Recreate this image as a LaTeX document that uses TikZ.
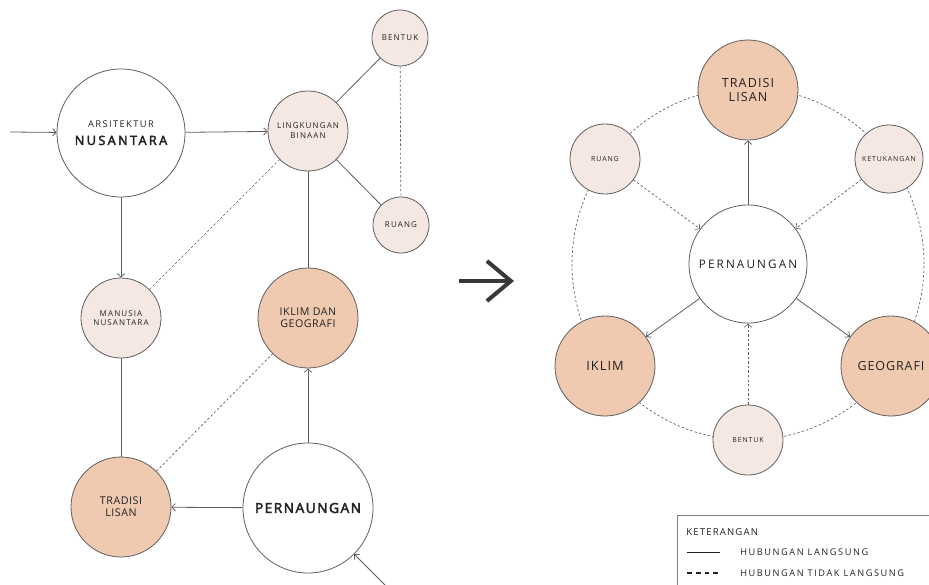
\documentclass[tikz,border=0pt]{standalone}
\usepackage{fontspec}
\setmainfont{Open Sans}
\usetikzlibrary{arrows.meta}
\definecolor{lightfill}{HTML}{F5E8E3}
\definecolor{orangefill}{HTML}{EFCAB0}
\definecolor{linegray}{HTML}{5E5E5E}
\definecolor{txt}{HTML}{222222}
\newcommand{\fs}[2]{\fontsize{#1}{#1}\selectfont\addfontfeatures{LetterSpace=#2}}
\newcommand{\semi}{\addfontfeatures{FakeBold=3}}
\begin{document}
\begin{tikzpicture}[x=0.75pt,y=-0.75pt,
  circ/.style={circle,draw=linegray,line width=0.6pt,inner sep=0pt,align=center,text=txt},
  lightc/.style={circ,fill=lightfill},
  orangec/.style={circ,fill=orangefill},
  whitec/.style={circ,fill=white},
  solidln/.style={draw=linegray,line width=0.6pt},
  dashln/.style={draw=linegray,line width=0.5pt,dash pattern=on 1.8pt off 1.6pt},
  arr/.style={-{Straight Barb[length=2.6pt,width=5.5pt]}},
  tinyL/.style={font=\fs{6}{14}},
  tinyR/.style={font=\fs{5.2}{13}},
]
\useasboundingbox (0,0) rectangle (929,585);
\clip (0,0) rectangle (929,585);

% ---------------- left diagram ----------------
\node[whitec,minimum size=96pt] (arsi) at (121,133)
  {{\fs{7}{15}ARSITEKTUR}\\[1pt]{\fs{9.6}{18}\semi NUSANTARA}};
\node[lightc,minimum size=60pt,tinyL] (ling) at (308,131) {LINGKUNGAN\\[1.5pt]BINAAN};
\node[lightc,minimum size=42pt,tinyL] (bentukL) at (400,38) {BENTUK};
\node[lightc,minimum size=42pt,tinyL] (ruangL) at (401,225) {RUANG};
\node[lightc,minimum size=60pt,tinyL] (manu) at (121,318) {MANUSIA\\[1pt]NUSANTARA};
\node[orangec,minimum size=75pt,font=\fs{8}{5}] (iklimL) at (308,318) {IKLIM DAN\\[1pt]GEOGRAFI};
\node[orangec,minimum size=75pt,font=\fs{8}{5}] (tradL) at (121,507) {TRADISI\\[1pt]LISAN};
\node[whitec,minimum size=97.5pt,font=\fs{10.4}{10}\semi] (pernL) at (308,508) {PERNAUNGAN};

\coordinate (inL) at (10,132);
\coordinate (inB) at (395,595);

\draw[solidln,arr] (inL) -- (arsi);
\draw[solidln,arr] (arsi) -- (ling);
\draw[solidln,arr] (arsi) -- (manu);
\draw[solidln] (ling) -- (bentukL);
\draw[solidln] (ling) -- (ruangL);
\draw[dashln] (bentukL) -- (ruangL);
\draw[dashln] (manu) -- (ling);
\draw[solidln] (ling) -- (iklimL);
\draw[solidln] (manu) -- (tradL);
\draw[dashln] (tradL) -- (iklimL);
\draw[solidln,arr] (pernL) -- (iklimL);
\draw[solidln,arr] (pernL) -- (tradL);
\draw[solidln,arr] (inB) -- (pernL);

% ---------------- central arrow ----------------
\coordinate (bigA) at (459,281);
\coordinate (bigB) at (514,281);
\draw[draw=txt!90,line width=3pt,-{Straight Barb[length=18pt,width=30pt,line width=3pt]}] (bigA) -- (bigB);

% ---------------- right diagram ----------------
\coordinate (rc) at (748,264);
\draw[dashln] (rc) circle[radius=132pt];

\node[whitec,minimum size=88.5pt,font=\fs{8.8}{18}] (pernR) at (748,264) {PERNAUNGAN};
\node[orangec,minimum size=75pt,font=\fs{9.4}{9}] (tradR) at (748,90) {TRADISI\\[1pt]LISAN};
\node[lightc,minimum size=52.5pt,tinyR] (ruangR) at (605,159) {RUANG};
\node[lightc,minimum size=51pt,tinyR] (ketuR) at (889,159) {KETUKANGAN};
\node[orangec,minimum size=75pt,font=\fs{9.6}{8}] (iklimR) at (605,366) {IKLIM};
\node[orangec,minimum size=75pt,font=\fs{9.4}{7}] (geoR) at (891,366) {GEOGRAFI};
\node[lightc,minimum size=52.5pt,tinyR] (bentukR) at (748,440) {BENTUK};

\draw[solidln,arr] (pernR) -- (tradR);
\draw[solidln,arr] (pernR) -- (iklimR);
\draw[solidln,arr] (pernR) -- (geoR);
\draw[dashln,arr] (ruangR) -- (pernR);
\draw[dashln,arr] (ketuR) -- (pernR);
\draw[dashln,arr] (bentukR) -- (pernR);

% ---------------- legend ----------------
\draw[draw=linegray!80,line width=0.6pt] (677,600) -- (677,515) -- (940,515);
\node[anchor=west,inner sep=0pt,text=txt,font=\fs{7.2}{12}] (ket) at (686,532) {KETERANGAN};
\coordinate (l1a) at (687,552);
\coordinate (l1b) at (720,552);
\coordinate (l2a) at (687,573);
\coordinate (l2b) at (720,573);
\draw[draw=txt,line width=0.7pt] (l1a) -- (l1b);
\draw[draw=txt,line width=0.9pt,dash pattern=on 3.6pt off 3pt] (l2a) -- (l2b);
\node[anchor=west,inner sep=0pt,text=txt,font=\fs{6.9}{17}] (hl) at (740,552) {HUBUNGAN LANGSUNG};
\node[anchor=west,inner sep=0pt,text=txt,font=\fs{6.9}{17}] (htl) at (740,573) {HUBUNGAN TIDAK LANGSUNG};
\end{tikzpicture}
\end{document}
